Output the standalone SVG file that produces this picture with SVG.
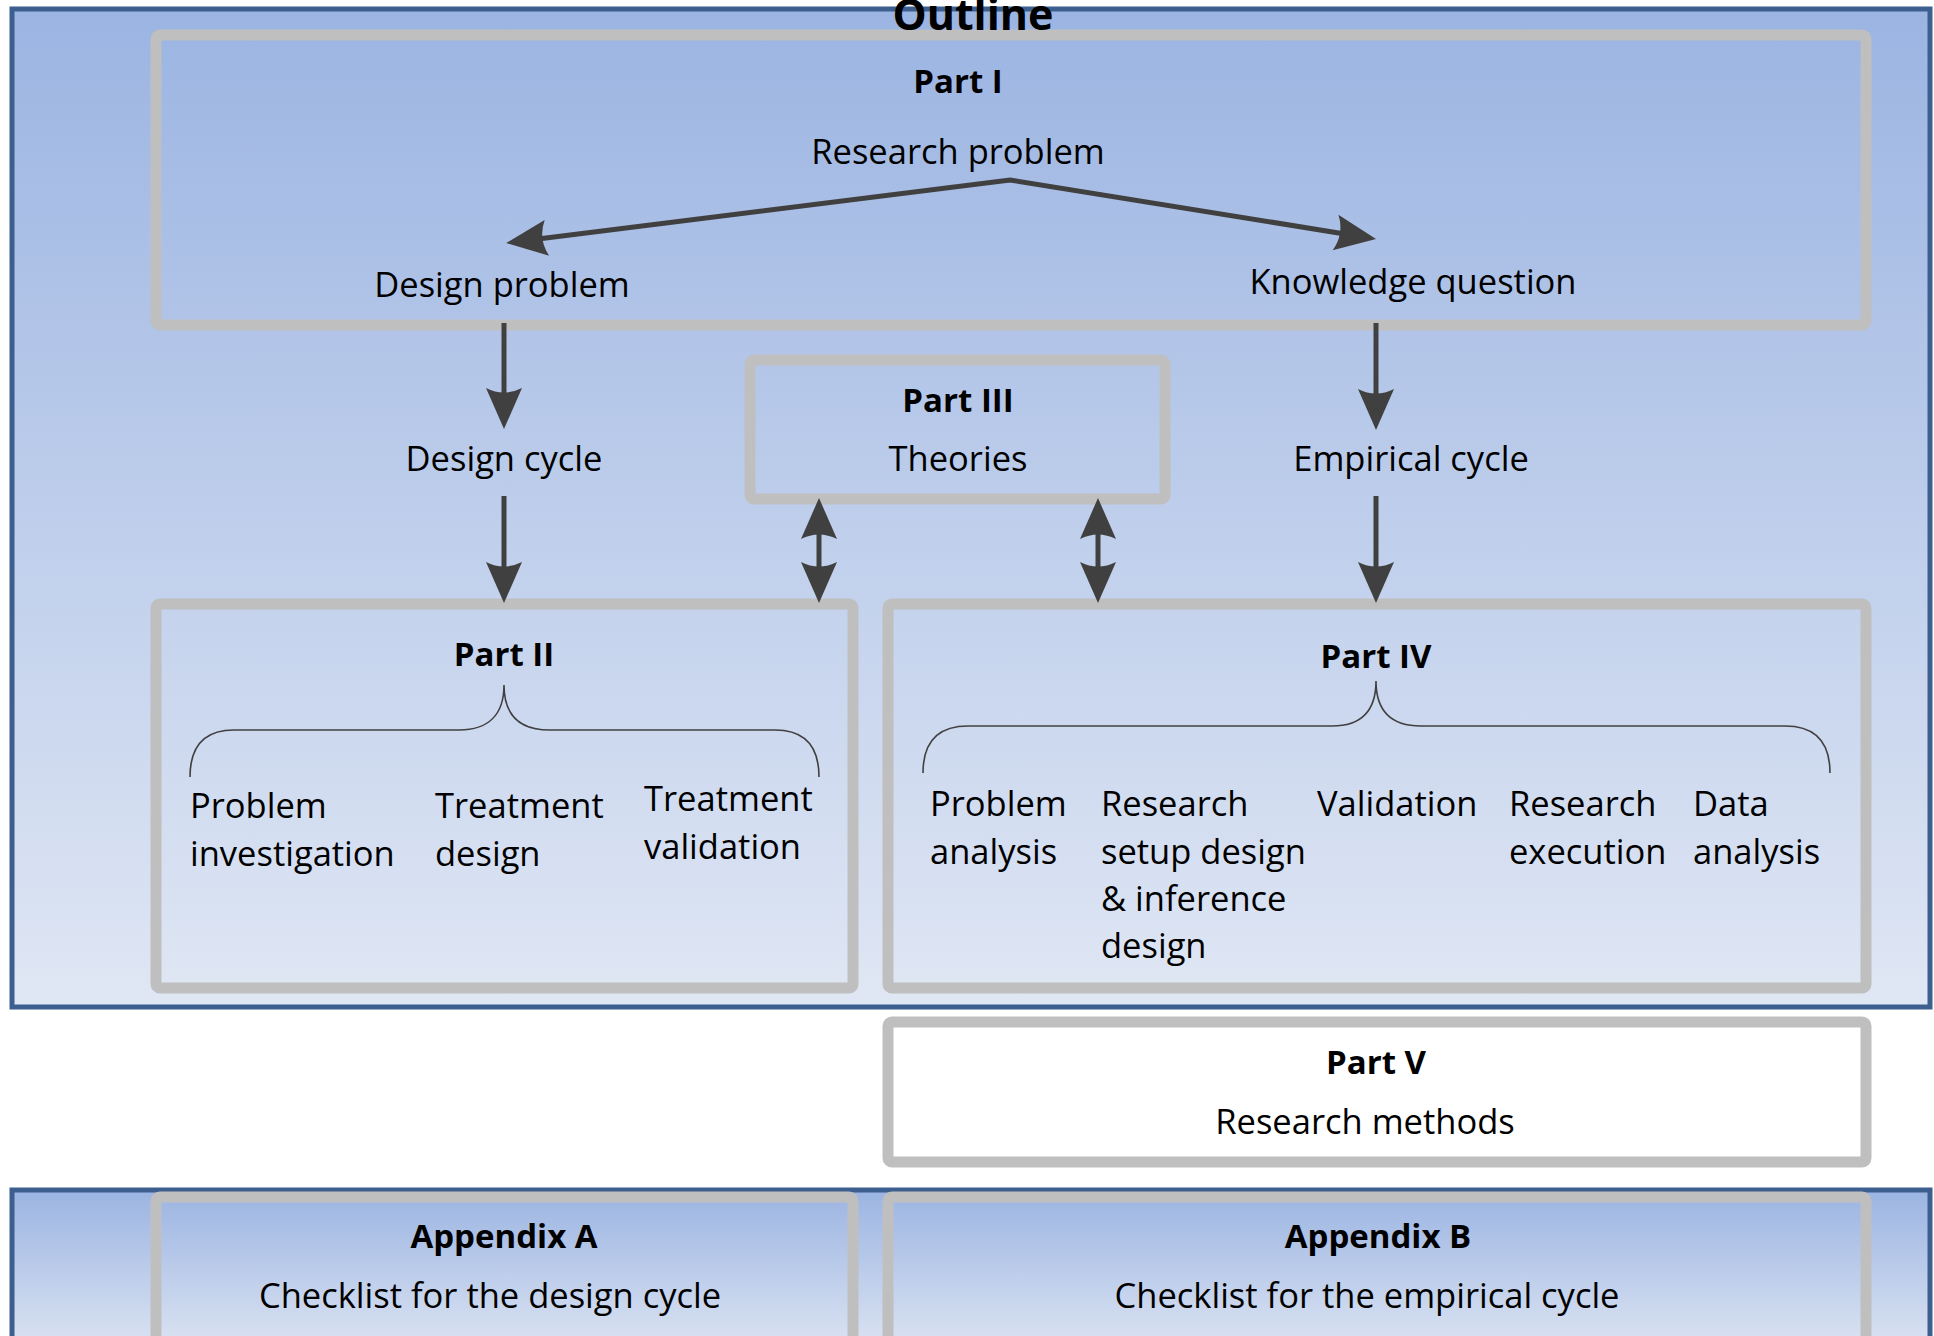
<svg xmlns="http://www.w3.org/2000/svg" width="1934" height="1336" viewBox="0 0 1934 1336">
  <defs>
    <linearGradient id="bg" x1="0" y1="0" x2="0" y2="1">
      <stop offset="0" stop-color="#9BB4E2"/>
      <stop offset="1" stop-color="#E0E7F4"/>
    </linearGradient>
    <linearGradient id="bg2" x1="0" y1="0" x2="0" y2="1">
      <stop offset="0" stop-color="#9BB4E2"/>
      <stop offset="1" stop-color="#DCE4F2"/>
    </linearGradient>
    <marker id="ah" markerUnits="userSpaceOnUse" markerWidth="80" markerHeight="80" viewBox="-40 -40 80 80" refX="0" refY="0" orient="auto-start-reverse" overflow="visible">
      <path d="M30,0 L-11,-18 Q-2,0 -11,18 Z" fill="#404040"/>
    </marker>
    <style>
      .panel { stroke: #3C5F8F; stroke-width: 5; }
      .box { fill: none; stroke: #BFBFBF; stroke-width: 11; }
      .t { font-family: "Open Sans", "Noto Sans", "Liberation Sans", sans-serif; font-size: 34.5px; fill: #000; }
      .b { font-family: "Open Sans", "Noto Sans", "Liberation Sans", sans-serif; font-size: 33px; font-weight: bold; fill: #000; }
      .c { text-anchor: middle; }
      .conn { fill: none; stroke: #404040; stroke-width: 5; stroke-linejoin: miter; marker-end: url(#ah); }
      .brace { fill: none; stroke: #404040; stroke-width: 1.6; }
    </style>
  </defs>

  <rect width="1934" height="1336" fill="#FFFFFF"/>

  <!-- background panels -->
  <rect id="panel-main" class="panel" x="12" y="9" width="1918" height="998" fill="url(#bg)"/>
  <rect id="panel-appendix" class="panel" x="12" y="1190" width="1918" height="160" fill="url(#bg2)"/>

  <!-- Part I -->
  <g id="part1">
    <rect class="box" x="156" y="35" width="1710" height="290" rx="4"/>
    <text class="b c" x="958" y="93">Part I</text>
    <text class="t c" x="958" y="164">Research problem</text>
  </g>
  <g id="design-problem">
    <text class="t c" x="502" y="297">Design problem</text>
  </g>
  <g id="knowledge-question">
    <text class="t c" x="1413" y="294">Knowledge question</text>
  </g>

  <!-- Part III -->
  <g id="part3">
    <rect class="box" x="750" y="360" width="415" height="139" rx="4"/>
    <text class="b c" x="958" y="412">Part III</text>
    <text class="t c" x="958" y="471">Theories</text>
  </g>

  <g id="design-cycle">
    <text class="t c" x="504" y="471">Design cycle</text>
  </g>
  <g id="empirical-cycle">
    <text class="t c" x="1411" y="471">Empirical cycle</text>
  </g>

  <!-- Part II -->
  <g id="part2">
    <rect class="box" x="156" y="604" width="697" height="384" rx="4"/>
    <text class="b c" x="504" y="666">Part II</text>
    <path class="brace" d="M190,777 C190,745 205,730 234,730 L459,730 C488,730 504,715 504,685 C504,715 520,730 550,730 L775,730 C804,730 819,745 819,777"/>
    <text class="t" x="190" y="818">Problem</text>
    <text class="t" x="190" y="866">investigation</text>
    <text class="t" x="435" y="818">Treatment</text>
    <text class="t" x="435" y="866">design</text>
    <text class="t" x="644" y="811">Treatment</text>
    <text class="t" x="644" y="859">validation</text>
  </g>

  <!-- Part IV -->
  <g id="part4">
    <rect class="box" x="888" y="604" width="978" height="384" rx="4"/>
    <text class="b c" x="1376" y="668">Part IV</text>
    <path class="brace" d="M923,773 C923,741 938,726 968,726 L1332,726 C1361,726 1376,711 1376,681 C1376,711 1391,726 1421,726 L1785,726 C1815,726 1830,741 1830,773"/>
    <text class="t" x="930" y="816">Problem</text>
    <text class="t" x="930" y="864">analysis</text>
    <text class="t" x="1101" y="816">Research</text>
    <text class="t" x="1101" y="864">setup design</text>
    <text class="t" x="1101" y="911">&amp; inference</text>
    <text class="t" x="1101" y="958">design</text>
    <text class="t" x="1317" y="816">Validation</text>
    <text class="t" x="1509" y="816">Research</text>
    <text class="t" x="1509" y="864">execution</text>
    <text class="t" x="1693" y="816">Data</text>
    <text class="t" x="1693" y="864">analysis</text>
  </g>

  <!-- Part V -->
  <g id="part5">
    <rect class="box" x="888" y="1022" width="978" height="140" rx="4" style="fill:#FFFFFF"/>
    <text class="b c" x="1376" y="1074">Part V</text>
    <text class="t c" x="1365" y="1134">Research methods</text>
  </g>

  <!-- Appendices -->
  <g id="appendix-a">
    <rect class="box" x="156" y="1197" width="697" height="160" rx="4"/>
    <text class="b c" x="504" y="1248">Appendix A</text>
    <text class="t c" x="490" y="1308">Checklist for the design cycle</text>
  </g>
  <g id="appendix-b">
    <rect class="box" x="888" y="1197" width="978" height="160" rx="4"/>
    <text class="b c" x="1378" y="1248">Appendix B</text>
    <text class="t c" x="1367" y="1308">Checklist for the empirical cycle</text>
  </g>

  <!-- connectors -->
  <g id="connectors">
    <path class="conn" style="marker-start:url(#ah)" d="M536,239.3 L1010,180 L1346.4,234.2"/>
    <path class="conn" d="M504,323 L504,399"/>
    <path class="conn" d="M504,496 L504,573"/>
    <path class="conn" d="M1376,323 L1376,400"/>
    <path class="conn" d="M1376,496 L1376,573"/>
    <path class="conn" style="marker-start:url(#ah)" d="M819,528 L819,573"/>
    <path class="conn" style="marker-start:url(#ah)" d="M1098,528 L1098,573"/>
  </g>

  <!-- title -->
  <g id="title">
    <text class="b c" x="973" y="30" style="font-size:43px">Outline</text>
  </g>
</svg>
